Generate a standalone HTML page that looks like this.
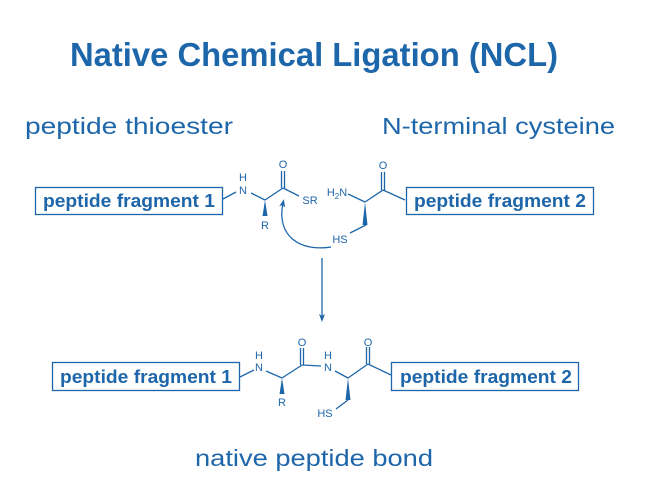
<!DOCTYPE html>
<html><head><meta charset="utf-8"><style>
html,body{margin:0;padding:0;background:#fff;}
svg{display:block;}
text{font-family:"Liberation Sans",sans-serif;fill:#1e66aa;}
.c{font-size:11px;}
</style></head><body>
<svg width="645" height="498" viewBox="0 0 645 498" xmlns="http://www.w3.org/2000/svg">
<defs>
<marker id="ah" markerWidth="8" markerHeight="8" refX="4" refY="4" orient="auto" markerUnits="userSpaceOnUse">
<path d="M0,1 L8,4 L0,7 L2,4 Z" fill="#1e66aa"/>
</marker>
</defs>
<text x="70" y="66" font-size="33" font-weight="bold" textLength="488" lengthAdjust="spacingAndGlyphs">Native Chemical Ligation (NCL)</text>
<text x="25" y="134" font-size="23" textLength="208" lengthAdjust="spacingAndGlyphs">peptide thioester</text>
<text x="382" y="134" font-size="23" textLength="233" lengthAdjust="spacingAndGlyphs">N-terminal cysteine</text>

<g stroke="#1e66aa" stroke-width="1.3" fill="none">
<!-- top left -->
<rect x="35.5" y="187.5" width="187" height="27"/>
<line x1="223" y1="199" x2="236" y2="192"/>
<line x1="251" y1="193" x2="265" y2="200"/>
<line x1="265" y1="200" x2="283" y2="188"/>
<line x1="281.5" y1="188" x2="281.5" y2="171"/>
<line x1="284.5" y1="188" x2="284.5" y2="171"/>
<line x1="283" y1="188" x2="299" y2="196"/>
<!-- top right -->
<line x1="348" y1="194" x2="365" y2="202"/>
<line x1="365" y1="202" x2="383" y2="190"/>
<line x1="381.5" y1="190" x2="381.5" y2="172"/>
<line x1="384.5" y1="190" x2="384.5" y2="172"/>
<line x1="383" y1="190" x2="405" y2="200"/>
<rect x="406.5" y="187.5" width="187" height="27"/>
<line x1="350" y1="233" x2="366" y2="225"/>
<!-- curved arrow -->
<path d="M331,247 C300,252 276,236 283,203" marker-end="url(#ah)"/>
<!-- vertical arrow -->
<line x1="322" y1="258" x2="322" y2="318" marker-end="url(#ah)"/>
<!-- bottom -->
<rect x="52.5" y="362.5" width="187" height="28"/>
<line x1="240" y1="377" x2="254" y2="370"/>
<line x1="266" y1="371" x2="282" y2="378"/>
<line x1="282" y1="378" x2="302" y2="365"/>
<line x1="300.5" y1="365" x2="300.5" y2="348"/>
<line x1="303.5" y1="365" x2="303.5" y2="348"/>
<line x1="302" y1="365" x2="321" y2="366"/>
<line x1="335" y1="371" x2="348" y2="378"/>
<line x1="348" y1="378" x2="368" y2="364"/>
<line x1="366.5" y1="364" x2="366.5" y2="347"/>
<line x1="369.5" y1="364" x2="369.5" y2="347"/>
<line x1="368" y1="364" x2="391" y2="375"/>
<rect x="391.5" y="362.5" width="187" height="28"/>
<line x1="336" y1="409" x2="348" y2="400"/>
</g>
<!-- wedges -->
<path d="M265,200 L262.5,216 L267.5,216 Z" fill="#1e66aa"/>
<path d="M365,202 L362.5,225 L367.5,225 Z" fill="#1e66aa"/>
<path d="M282,378 L279.5,394 L284.5,394 Z" fill="#1e66aa"/>
<path d="M348,378 L345.5,400 L350.5,400 Z" fill="#1e66aa"/>

<text x="43" y="207" font-size="18" font-weight="bold" textLength="172" lengthAdjust="spacingAndGlyphs">peptide fragment 1</text>
<text x="414" y="207" font-size="18" font-weight="bold" textLength="172" lengthAdjust="spacingAndGlyphs">peptide fragment 2</text>
<text x="60" y="383" font-size="18" font-weight="bold" textLength="172" lengthAdjust="spacingAndGlyphs">peptide fragment 1</text>
<text x="400" y="383" font-size="18" font-weight="bold" textLength="172" lengthAdjust="spacingAndGlyphs">peptide fragment 2</text>

<g class="c" text-anchor="middle">
<text x="243" y="181" class="c">H</text>
<text x="243" y="194" class="c">N</text>
<text x="283" y="168" class="c">O</text>
<text x="310" y="204" class="c">SR</text>
<text x="265" y="229" class="c">R</text>
<text x="337" y="196" class="c">H<tspan font-size="8" dy="3">2</tspan><tspan dy="-3">N</tspan></text>
<text x="383" y="169" class="c">O</text>
<text x="340" y="243" class="c">HS</text>

<text x="259" y="359" class="c">H</text>
<text x="259" y="371" class="c">N</text>
<text x="302" y="346" class="c">O</text>
<text x="282" y="406" class="c">R</text>
<text x="328" y="359" class="c">H</text>
<text x="328" y="371" class="c">N</text>
<text x="368" y="346" class="c">O</text>
<text x="325" y="417" class="c">HS</text>
</g>

<text x="195" y="466" font-size="23" textLength="238" lengthAdjust="spacingAndGlyphs">native peptide bond</text>
</svg>
</body></html>
